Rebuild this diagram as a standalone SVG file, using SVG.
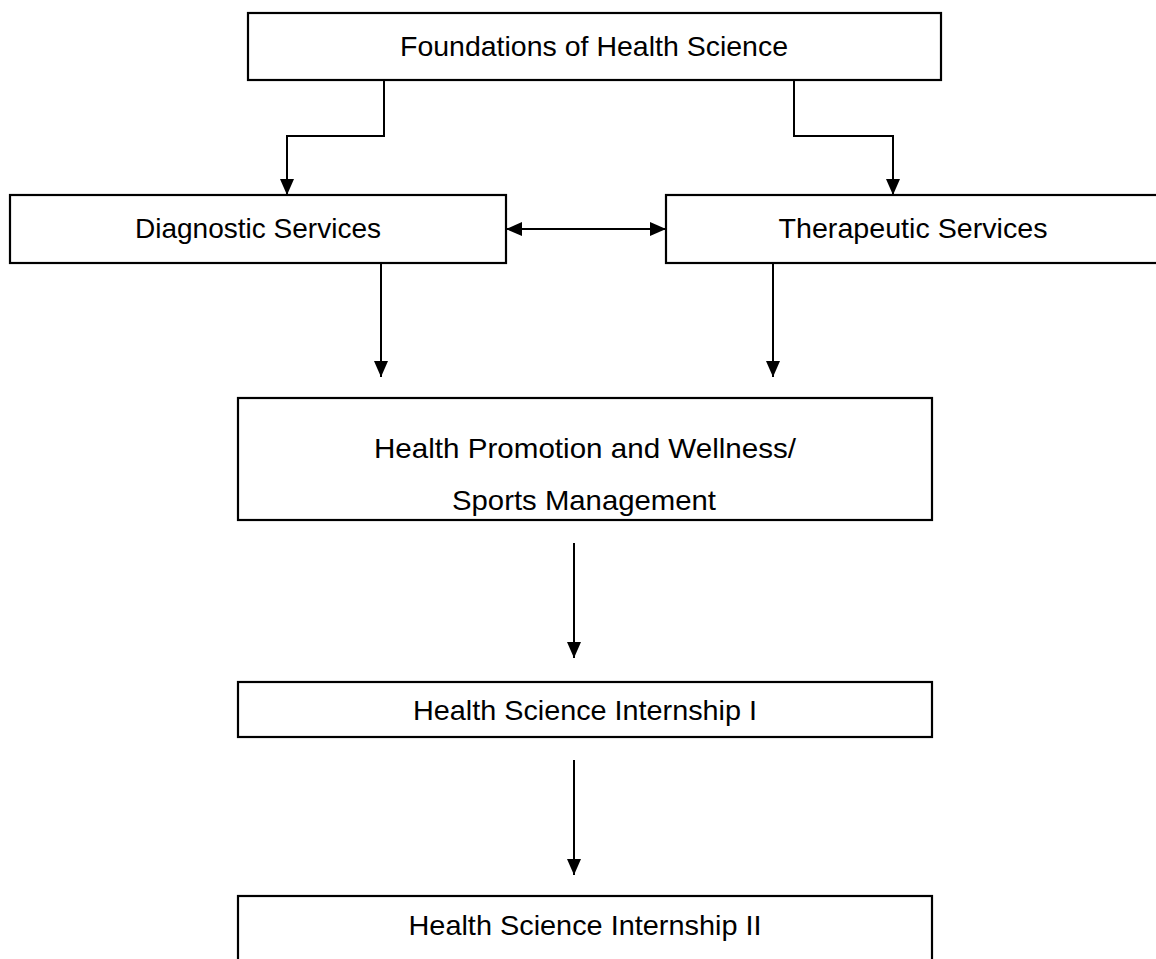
<svg xmlns="http://www.w3.org/2000/svg" width="1156" height="959" viewBox="0 0 1156 959">
<style>
.box{fill:#fff;stroke:#000;stroke-width:2.2}
.lbl{font-family:"Liberation Sans",Arial,sans-serif;font-size:28px;fill:#000;text-anchor:middle}
.con{fill:none;stroke:#000;stroke-width:2}
</style>
<defs>
<marker id="ah" viewBox="0 0 16 14" refX="16" refY="7" markerWidth="16" markerHeight="14" markerUnits="userSpaceOnUse" orient="auto-start-reverse"><path d="M0,0 L16,7 L0,14 z" fill="#000"/></marker>
</defs>
<rect width="1156" height="959" fill="#fff"/>
<g id="connectors">
<path class="con" d="M384,80 V136 H287 V195" marker-end="url(#ah)"/>
<path class="con" d="M794,80 V136 H893 V195" marker-end="url(#ah)"/>
<path class="con" d="M506,229 H666" marker-start="url(#ah)" marker-end="url(#ah)"/>
<path class="con" d="M381,263 V377" marker-end="url(#ah)"/>
<path class="con" d="M773,263 V377" marker-end="url(#ah)"/>
<path class="con" d="M574,543 V658" marker-end="url(#ah)"/>
<path class="con" d="M574,760 V875" marker-end="url(#ah)"/>
</g>
<g id="foundations"><rect class="box" x="248" y="13" width="693" height="67"/><text class="lbl" x="594" y="56" textLength="388" lengthAdjust="spacingAndGlyphs">Foundations of Health Science</text></g>
<g id="diagnostic"><rect class="box" x="10" y="195" width="496" height="68"/><text class="lbl" x="258" y="238" textLength="246" lengthAdjust="spacingAndGlyphs">Diagnostic Services</text></g>
<g id="therapeutic"><rect class="box" x="666" y="195" width="500" height="68"/><text class="lbl" x="913" y="238" textLength="269" lengthAdjust="spacingAndGlyphs">Therapeutic Services</text></g>
<g id="promotion"><rect class="box" x="238" y="398" width="694" height="122"/><text class="lbl" x="585" y="458" textLength="422" lengthAdjust="spacingAndGlyphs">Health Promotion and Wellness/</text><text class="lbl" x="584" y="510" textLength="264" lengthAdjust="spacingAndGlyphs">Sports Management</text></g>
<g id="internship1"><rect class="box" x="238" y="682" width="694" height="55"/><text class="lbl" x="585" y="720" textLength="344" lengthAdjust="spacingAndGlyphs">Health Science Internship I</text></g>
<g id="internship2"><rect class="box" x="238" y="896" width="694" height="80"/><text class="lbl" x="585" y="935" textLength="353" lengthAdjust="spacingAndGlyphs">Health Science Internship II</text></g>
</svg>
